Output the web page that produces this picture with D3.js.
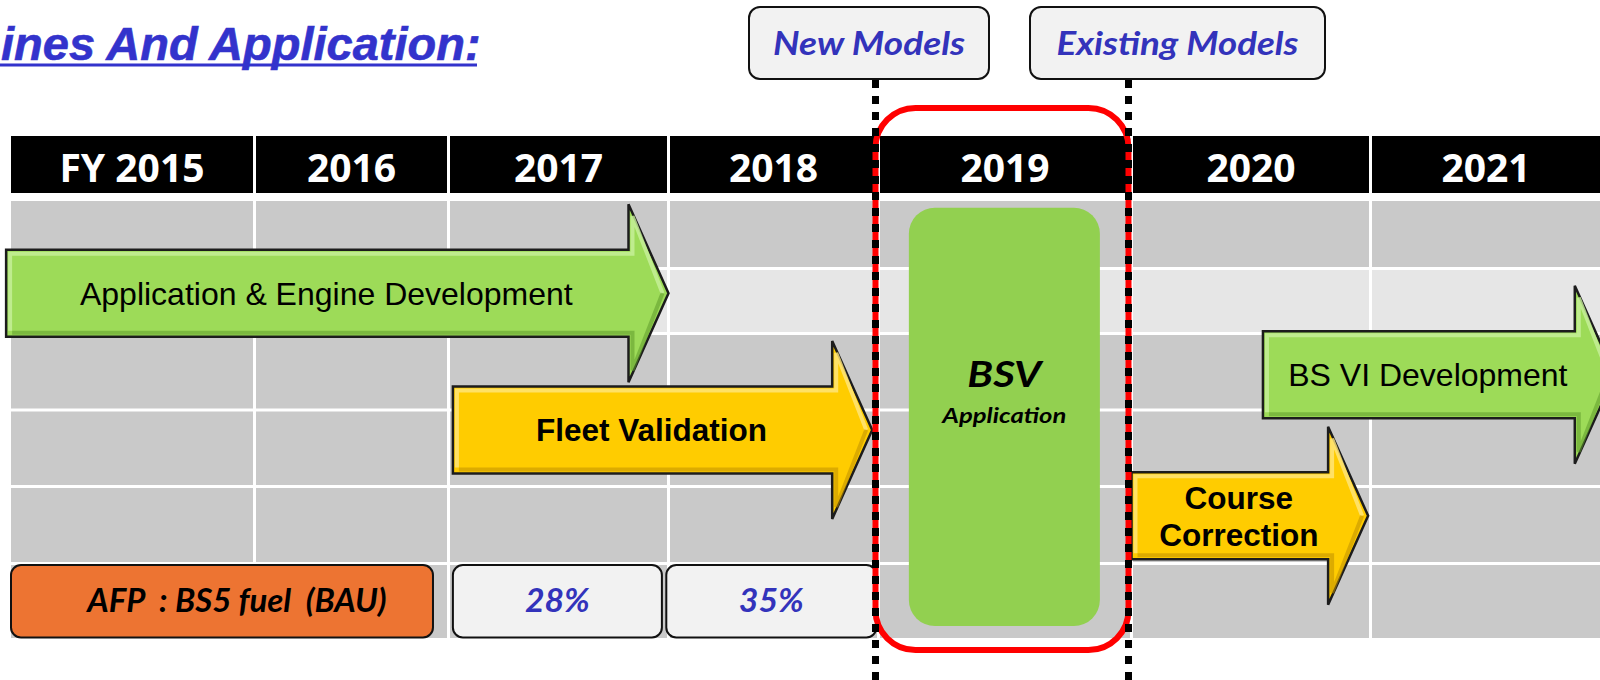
<!DOCTYPE html>
<html><head><meta charset="utf-8">
<script src="https://cdn.jsdelivr.net/npm/d3@7"></script>
<style>html,body{margin:0;padding:0;background:#fff;overflow:hidden}</style>
</head><body><svg id="chart" width="1600" height="680"></svg>
<script>
// ---------- DATA ----------
const titleText = "ines And Application:";
const years = [2015, 2016, 2017, 2018, 2019, 2020, 2021];
const yearLabels = ["FY 2015", "2016", "2017", "2018", "2019", "2020", "2021"];
const gridRows = [0, 1, 2, 3, 4, 5];

const taskNames  = ["Application & Engine Development", "Fleet Validation", "Course Correction", "BS VI Development"];
const taskKind   = ["dev", "validation", "validation", "dev"];
const taskStart  = [2014.98, 2017.02, 2020.0, 2020.55];
const taskEnd    = [2018.0, 2018.97, 2020.99, 2022.02];
const taskLane   = [1.38, 3.26, 4.38, 2.54];

const phaseName  = ["BSV", "Application"];
const phaseStart = 2019.12, phaseEnd = 2019.875;
const phaseTop = 0.10, phaseBottom = 5.84;

const fuelLabels = ["AFP  : BS5 fuel  (BAU)", "28%", "35%"];
const fuelStart  = [2015.0, 2017.02, 2017.99];
const fuelEnd    = [2016.92, 2017.97, 2018.99];
const fuelRow    = 5;

const markerLabels = ["New Models", "Existing Models"];
const markerYears  = [2019, 2020];

// ---------- LAYOUT ----------
const svg = d3.select("#chart");
const x = d3.scaleLinear()
  .domain([2015, 2016, 2017, 2018, 2019, 2020, 2021, 2022])
  .range([11, 254.5, 448.5, 668.5, 878.5, 1131.5, 1370.5, 1610]);
const y = d3.scaleLinear()
  .domain([0, 1, 2, 3, 4, 5, 6])
  .range([201, 268.5, 333.5, 410, 486.5, 563.5, 638]);

const headerTop = 136, headerBottom = 193;
const calibri = "Lato, 'Open Sans', sans-serif";
const arial = "'Liberation Sans', Arial, sans-serif";

function fit(sel, target) {
  sel.each(function () {
    const n = this.getComputedTextLength();
    if (n > 0 && Math.abs(n - target) / target > 0.02) {
      d3.select(this).attr("textLength", target).attr("lengthAdjust", "spacingAndGlyphs");
    }
  });
}

// Title
const title = svg.append("text")
  .attr("x", 1).attr("y", 60).attr("text-anchor", "start")
  .attr("font-family", arial).attr("font-weight", 700).attr("font-style", "italic")
  .attr("font-size", 47).attr("fill", "#3333cc")
  .attr("stroke", "#3333cc").attr("stroke-width", 0.6).text(titleText)
  .call(fit, 471);
svg.append("rect").attr("x", 0).attr("y", 63.5)
  .attr("width", 477).attr("height", 3).attr("fill", "#3333cc");

// Grid cells
const cells = [];
years.forEach((yr, i) => gridRows.forEach(r => cells.push({ yr, i, r })));
svg.append("g").selectAll("rect").data(cells).join("rect")
  .attr("x", d => d.i === 0 ? x(d.yr) : x(d.yr) + 1.5)
  .attr("width", d => (x(d.yr + 1) - 1.5) - (d.i === 0 ? x(d.yr) : x(d.yr) + 1.5))
  .attr("y", d => d.r === 0 ? y(0) : y(d.r) + 1.5)
  .attr("height", d => (d.r === 5 ? y(6) : y(d.r + 1) - 1.5) - (d.r === 0 ? y(0) : y(d.r) + 1.5))
  .attr("fill", d => d.r === 1 ? "#e6e6e6" : "#c9c9c9");

// Header
const hdr = svg.append("g");
hdr.selectAll("rect").data(years).join("rect")
  .attr("x", (d, i) => i === 0 ? x(d) : x(d) + 1.5)
  .attr("width", (d, i) => (x(d + 1) - 1.5) - (i === 0 ? x(d) : x(d) + 1.5))
  .attr("y", headerTop).attr("height", headerBottom - headerTop).attr("fill", "#000");
hdr.selectAll("text").data(years).join("text")
  .attr("x", (d, i) => ((i === 0 ? x(d) : x(d) + 1.5) + Math.min(1600, x(d + 1) - 1.5)) / 2)
  .attr("y", 181.5).attr("text-anchor", "middle")
  .attr("font-family", "'Open Sans', sans-serif").attr("font-weight", 700).attr("font-size", 39)
  .attr("fill", "#fff").text((d, i) => yearLabels[i]);

// Arrows
const style = {
  dev: { fill: "#9ddb58", light: "#c8f09c", dark: "#5e9a2c", weight: 400, size: 32 },
  validation: { fill: "#ffcc00", light: "#ffe680", dark: "#c08f00", weight: 700, size: 31.5 }
};
const hb = 43.5, hh = 89, hl = 40;
const tasks = taskNames.map((name, i) => ({ name, kind: taskKind[i], s: taskStart[i], e: taskEnd[i], lane: taskLane[i] }));
const ag = svg.append("g").selectAll("g").data(tasks).join("g");
ag.append("path")
  .attr("d", d => {
    const x0 = x(d.s), x1 = x(d.e), xb = x1 - hl, c = y(d.lane);
    return `M${x0},${c - hb}L${xb},${c - hb}L${xb},${c - hh}L${x1},${c}L${xb},${c + hh}L${xb},${c + hb}L${x0},${c + hb}Z`;
  })
  .attr("fill", d => style[d.kind].fill).attr("stroke", "#1c1c1c").attr("stroke-width", 2.5)
  .attr("stroke-linejoin", "miter");
ag.append("path")
  .attr("d", d => {
    const x0 = x(d.s), x1 = x(d.e), xb = x1 - hl, c = y(d.lane);
    return `M${x0 + 4},${c + hb - 6}L${x0 + 4},${c - hb + 4}L${xb + 4},${c - hb + 4}L${xb + 4},${c - hh + 12}L${x1 - 6},${c}`;
  })
  .attr("fill", "none").attr("stroke", d => style[d.kind].light).attr("stroke-width", 4).attr("opacity", 0.8);
ag.append("path")
  .attr("d", d => {
    const x0 = x(d.s), x1 = x(d.e), xb = x1 - hl, c = y(d.lane);
    return `M${x0 + 6},${c + hb - 4}L${xb + 4},${c + hb - 4}L${xb + 4},${c + hh - 12}L${x1 - 6},${c}`;
  })
  .attr("fill", "none").attr("stroke", d => style[d.kind].dark).attr("stroke-width", 4).attr("opacity", 0.55);
ag.each(function (d) {
  const g = d3.select(this);
  const cx = (x(d.s) + x(d.e) - hl) / 2 + 9, c = y(d.lane);
  const st = style[d.kind];
  const words = d.name === "Course Correction" ? ["Course", "Correction"] : [d.name];
  const cap = st.size * 0.716;
  words.forEach((w, k) => {
    const off = (k - (words.length - 1) / 2) * 37;
    g.append("text").attr("x", cx).attr("y", c + off + cap / 2).attr("text-anchor", "middle")
      .attr("font-family", arial).attr("font-weight", st.weight).attr("font-size", st.size)
      .attr("fill", "#000").text(w);
  });
});

// BSV phase box
svg.append("rect")
  .attr("x", x(phaseStart)).attr("width", x(phaseEnd) - x(phaseStart))
  .attr("y", y(phaseTop)).attr("height", y(phaseBottom) - y(phaseTop))
  .attr("rx", 26).attr("fill", "#92d050");
const pcx = (x(phaseStart) + x(phaseEnd)) / 2;
svg.append("text").attr("x", pcx).attr("y", 387).attr("text-anchor", "middle")
  .attr("font-family", calibri).attr("font-weight", 700).attr("font-style", "italic")
  .attr("font-size", 37).attr("fill", "#000").text(phaseName[0]).call(fit, 74);
svg.append("text").attr("x", pcx).attr("y", 423).attr("text-anchor", "middle")
  .attr("font-family", calibri).attr("font-weight", 700).attr("font-style", "italic")
  .attr("font-size", 21).attr("fill", "#000").text(phaseName[1]).call(fit, 124);

// Fuel row boxes
const fuel = fuelLabels.map((l, i) => ({ l, s: fuelStart[i], e: fuelEnd[i], i }));
const fg = svg.append("g").selectAll("g").data(fuel).join("g");
fg.append("rect")
  .attr("x", d => x(d.s)).attr("width", d => x(d.e) - x(d.s))
  .attr("y", y(fuelRow) + 1.5).attr("height", y(fuelRow + 1) - y(fuelRow) - 2)
  .attr("rx", 10).attr("fill", d => d.i === 0 ? "#ed7432" : "#f2f2f2")
  .attr("stroke", "#111").attr("stroke-width", 2);
fg.append("text")
  .attr("x", d => d.i === 0 ? (x(d.s) + x(d.e)) / 2 + 15 : (x(d.s) + x(d.e)) / 2)
  .attr("y", 612).attr("text-anchor", "middle").style("white-space", "pre")
  .attr("font-family", calibri).attr("font-weight", 700).attr("font-style", "italic")
  .attr("font-size", 33).attr("fill", d => d.i === 0 ? "#000" : "#3333bb")
  .text(d => d.l)
  .each(function (d) { d3.select(this).call(fit, d.i === 0 ? 296 : 65); });

// Red highlight frame around 2019
const lx0 = x(markerYears[0]) - 3, lx1 = x(markerYears[1]) - 3;
svg.append("rect").attr("x", lx0).attr("y", 108).attr("width", lx1 - lx0).attr("height", 542)
  .attr("rx", 40).attr("fill", "none").attr("stroke", "#ff0000").attr("stroke-width", 6);

// Dotted marker lines
svg.append("g").selectAll("line").data(markerYears).join("line")
  .attr("x1", d => x(d) - 3).attr("x2", d => x(d) - 3)
  .attr("y1", 80).attr("y2", 680)
  .attr("stroke", "#000").attr("stroke-width", 7).attr("stroke-dasharray", "8 8");

// Marker callouts
const callW = [240, 295], callOff = [-6.5, 49], callTextW = [192, 242];
const mg = svg.append("g").selectAll("g").data(markerYears).join("g");
mg.append("rect")
  .attr("x", (d, i) => x(d) - 3 + callOff[i] - callW[i] / 2).attr("width", (d, i) => callW[i])
  .attr("y", 7).attr("height", 72).attr("rx", 11)
  .attr("fill", "#f2f2f2").attr("stroke", "#111").attr("stroke-width", 2);
mg.append("text")
  .attr("x", (d, i) => x(d) - 3 + callOff[i]).attr("y", 55).attr("text-anchor", "middle")
  .attr("font-family", calibri).attr("font-weight", 700).attr("font-style", "italic")
  .attr("font-size", 32).attr("fill", "#3333bb")
  .text((d, i) => markerLabels[i])
  .each(function (d, i) { d3.select(this).call(fit, callTextW[i]); });
</script></body></html>
